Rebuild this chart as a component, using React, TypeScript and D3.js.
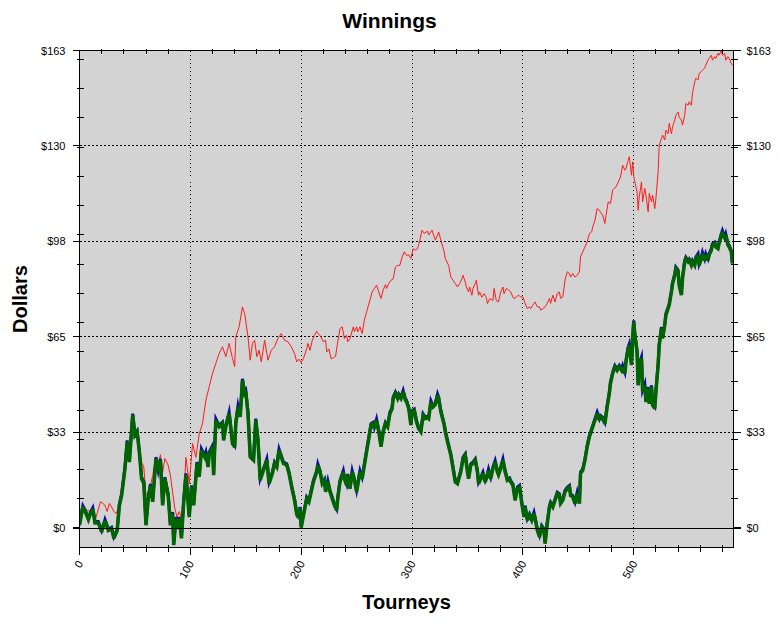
import React from 'react';
import * as d3 from 'd3';

// Cumulative winnings (red) by tourney number
const grossSeries: [number, number][] = [
  [0,0.8],[3,7],[5,5.6],[8,6],[10,4.8],[12,6.3],[14,2.3],[17,6.3],[19,8.8],[21,8.3],[23,7.6],[25,5.5],[27,8.3],[29,7],[31,5.5],[33,4.8],[35,6.5],[37,11],[39,14.4],[41,20],[43,29],[45,22.4],[48,38.4],[50,31.5],[52,32.6],[54,25.8],[56,22.4],[58,20.7],[60,11],[62,12],[64,14.4],[66,17.8],[69,24],[71,21.3],[73,24.9],[75,19],[77,23.6],[80,21.3],[82,17.8],[84,12.1],[86,6.5],[88,3.6],[90,5.5],[92,3.1],[94,10],[96,24],[99,15],
  [102,28.7],[105,24],[108,32],[111,35.6],[114,43.5],[117,48.1],[120,52.7],[123,56.1],[126,59.5],[129,61.8],[132,58.4],[135,62.9],[138,57.8],[140,55],[141,65.2],[144,68.6],[147,75.4],[149,73.1],[152,65.2],[154,57.2],[156,62.9],[158,64],[160,58.4],[162,60.6],[164,56.6],[167,64],[170,57.2],[173,60.6],[176,61.8],[179,64.6],[182,66.3],[185,64],[188,63.5],[191,61.8],[194,59.5],[196,56.6],[198,57.5],
  [200,56.4],[202,57.7],[205,61.2],[206,62.9],[208,60.6],[210,64],[212,65.7],[214,67.1],[215,66.3],[217,65.7],[220,63.5],[222,64],[223,60],[225,61],[227,57.7],[229,58],[231,58.5],[233,63.5],[235,68],[237,68.6],[239,64.6],[241,65.7],[242,63.5],[244,64.6],[247,68.6],[248,66.9],[250,68.6],[251,66.9],[253,68.6],[255,66.3],[257,70.9],[259,73.7],[262,77.7],[264,80.5],[266,81.7],[268,82.8],[270,80.5],[272,78.3],[274,81.2],[276,83],[277,81.7],[279,83.4],[281,84.5],[283,85],[285,89],[287,89.6],[289,89.6],[291,92.4],[293,94.2],[295,93],[297,93.2],[299,91.9],
  [301,95.3],[303,94.8],[305,95.3],[307,98.2],[309,101.6],[311,100.5],[314,101.3],[315,100],[318,101.6],[321,98.2],[323,100],[324,101],[326,98.2],[329,94.2],[330,91.9],[333,89.6],[335,85.6],[337,84.5],[339,83.4],[341,82.2],[343,83.4],[345,85],[346,86.2],[348,83.9],[349,82.2],[351,80.5],[352,82.2],[354,79.4],[355,81.7],[357,83.4],[358,84.5],[360,79.4],[361,80.5],[363,78.7],[365,79.9],[367,78.7],[368,76.5],[370,78.2],[373,77.6],[374,81.7],[376,77.6],[378,77.1],[380,80.5],[382,82.2],[383,79.9],[385,81.7],[387,81.2],[389,80.5],[391,78.8],[392,78.2],[394,78.8],[396,79.4],[398,78.8],
  [400,78.8],[402,76.6],[404,74.8],[406,75.4],[407,74.8],[409,76],[411,77.1],[413,75.4],[415,75.4],[416,74.3],[418,74.8],[420,75.4],[422,76.6],[424,78.3],[425,76.6],[427,79.4],[429,77.1],[431,80],[433,80.5],[434,78.3],[436,78.8],[438,84.5],[440,87.4],[442,86.8],[443,85.6],[445,86.8],[447,85.6],[449,86.2],[451,87.4],[452,92.5],[454,94.2],[456,95.9],[458,97.6],[460,100.5],[462,101],[463,102.7],[465,105],[467,109],[469,108.4],[470,107.8],[472,106.7],[474,103.9],[475,106.7],[477,111.3],[479,110.7],[481,115.3],[482,115.8],[484,116.4],[486,118],[488,119.7],[490,123.8],[492,122.1],[493,122.7],[495,125.5],[496,126.7],[498,120.4],[499,125],
  [500,120],[501,118.1],[503,114.7],[504,108.4],[505,113],[507,118.1],[508,111.3],[510,115.9],[511,113.6],[513,107.9],[514,114.2],[516,111.3],[517,113.6],[519,109],[520,112.4],[522,121.5],[523,130.7],[525,132.9],[526,134.1],[528,132.4],[529,135.8],[531,134.6],[532,138.1],[534,134.6],[535,136.9],[537,139.2],[538,140.9],[540,142],[541,140.3],[543,139.2],[544,137.5],[546,140.9],[547,144.9],[549,144.3],[550,145.5],[552,144.3],[553,148.3],[555,152.3],[556,153.5],[558,152.9],[559,155.2],[561,155.8],[562,156.3],[564,157],[565,158],[567,159.7],[568,160.3],[570,161.4],[571,159.7],[573,160.9],[574,160.3],[576,162],[577,161.4],[579,163],[580,161.4],[582,162],[583,159.7],[585,160.9],[586,160.3],[588,158.6],[589,158]
];

// Net winnings (blue / green) by tourney number
const netSeries: [number, number][] = [
  [0,0.8],[3,7],[5,5.6],[8,2.7],[10,4.9],[12,6.3],[14,1.6],[17,1.6],[20,-1.5],[23,2.3],[26,-1],[29,-0.4],[31,-3.7],[34,-1],[36,7.6],[38,11],[41,20.1],[43,29.3],[45,22.4],[48,38.4],[50,31.5],[52,32.6],[54,25.8],[56,16.7],[58,15.2],[60,0.8],[62,9.9],[64,14.4],[66,8.8],[69,23.6],[71,19],[73,23],[75,7.6],[77,16.7],[80,11],[82,0.8],[84,4.8],[85,-6],[87,3.1],[89,-0.4],[90,3.1],[92,-3.7],[94,8.8],[96,18],[99,3.6],
  [101,13.9],[103,7.6],[106,21.9],[108,17.3],[110,26.4],[113,24.1],[114,25.3],[116,20.7],[117,25.3],[120,27.5],[121,17.9],[123,36.7],[126,34.4],[129,35.5],[130,29.8],[132,34.4],[135,39],[138,28.7],[140,27.5],[141,35.5],[143,41.2],[145,37.8],[147,50.3],[149,45.8],[150,46.4],[152,39],[154,24.1],[157,23],[159,36.7],[161,29.8],[163,16.2],[166,19.6],[169,23],[171,15],[174,18.5],[176,21.9],[178,20.7],[180,26.4],[182,24.1],[184,21.9],[187,21.3],[189,18.5],[192,12.7],[194,9.3],[196,4.5],[197,3.6],[199,6.5],
  [200,0],[202,4],[205,9.9],[207,8.8],[209,12.2],[211,15.6],[214,19],[215,21.3],[217,19],[219,15],[221,16.1],[222,12.2],[224,15.6],[226,12.2],[228,9.9],[230,7.6],[232,5.9],[233,9.9],[235,15.6],[238,19],[239,16.7],[241,14.4],[242,17.8],[244,13.3],[246,19],[248,16.1],[250,12.2],[253,19],[255,16.7],[257,21.3],[259,25.9],[261,30.4],[263,35],[265,35.5],[266,33.8],[268,36.6],[270,32.7],[272,27.6],[274,32.7],[276,35.5],[278,34.4],[280,38.9],[282,40.6],[283,44.1],[285,45.8],[287,44.1],[288,45.2],[290,44.1],[292,46.4],[294,43.5],[295,43],[297,40.7],[299,35],
  [300,39.5],[302,40],[304,36.1],[306,33.8],[308,32.7],[310,38.4],[312,37.2],[314,37.5],[315,37.2],[317,42.9],[319,41.2],[321,42],[323,45.2],[324,44.1],[326,39.5],[329,35],[330,32.7],[332,29.3],[335,24.7],[337,20.2],[339,15.6],[341,15],[344,19],[346,23.6],[348,24.7],[350,19],[351,16.7],[353,21.3],[355,21.9],[357,23],[359,19],[360,15],[362,16.7],[364,18.5],[366,15.6],[368,17.8],[369,19.5],[371,16.7],[373,20.2],[375,22.4],[377,19],[378,18],[380,20.2],[382,23],[384,19],[386,16.1],[388,16.5],[389,15.6],[391,14.4],[393,9.3],[395,13.3],[397,13.9],[399,8.2],
  [401,3.6],[402,7],[404,2.5],[406,4.2],[408,2.5],[410,4.8],[411,3.1],[413,-0.9],[415,-3.2],[417,0.2],[419,-0.9],[420,-5.5],[422,1.4],[424,7],[425,8.2],[427,7],[429,9.3],[431,11.6],[433,11],[434,8.2],[436,9.3],[438,12.2],[440,13.3],[442,13.9],[443,11],[445,10.5],[447,8.2],[449,11.6],[451,8.2],[452,18.5],[454,19.6],[456,23],[458,27.6],[460,31],[461,32.1],[463,34.4],[465,36.7],[467,39],[469,36.7],[470,37.8],[472,37.2],[474,35.5],[476,41.2],[478,45.8],[479,49.2],[481,52.6],[483,54.9],[485,53.7],[487,54.9],[489,53.7],[490,54.9],[492,52.6],[493,56.6],[495,61.2],[496,62.3],[498,55.5],[499,64.6],
  [500,70.3],[501,65.7],[503,60],[504,48.6],[505,55.5],[507,57.8],[508,46.4],[510,48.6],[511,42.9],[513,47.5],[514,42.3],[516,48.1],[517,41.8],[519,40.7],[520,46.4],[522,55.5],[523,62.3],[525,68],[526,64.6],[528,69.1],[529,72.6],[531,74.8],[532,76],[534,80.5],[535,83.2],[537,86.2],[538,88.5],[540,87.5],[541,82.8],[543,79.4],[544,85.1],[546,90.8],[547,91.9],[549,90.8],[550,91.3],[552,89.6],[553,90.8],[555,89.6],[556,91.9],[558,93.1],[559,89.6],[561,91.9],[562,93.6],[564,91.3],[565,93.1],[567,91.3],[568,93.1],[570,94.8],[571,96.5],[573,97],[574,95.9],[576,95.3],[577,97],[579,99.9],[580,101],[582,98.7],[583,99.9],[585,96.5],[586,96],[588,94.2],[589,90.2]
];

const xMajorTicks = [0, 100, 200, 300, 400, 500];
const xMinorStep = 20;
const yMax = 163;
const yMin = -6.8;
const yMajorTicks = [0, 32.6, 65.2, 97.8, 130.4, 163];
const yMinorStep = 10;
const xMax = 590;

const FONT = "'Liberation Sans', Arial, Helvetica, sans-serif";

export default function App() {
  const W = 779, H = 623;
  const L = 79.5, R = 733.5, T = 50.5, B = 547.5;
  const x = d3.scaleLinear().domain([0, xMax]).range([L, R]);
  const y = d3.scaleLinear().domain([yMin, yMax]).range([B, T]);

  const line = d3.line<[number, number]>().x(d => x(d[0])).y(d => y(d[1]));
  const grossPath = line(grossSeries) || '';
  const netPath = line(netSeries) || '';

  const xMinor = d3.range(0, xMax + 0.001, xMinorStep).filter(v => v % 100 !== 0);
  const yMinor = d3.range(yMinorStep, yMax, yMinorStep);

  const fmt = (v: number) => '$' + Math.round(v);

  return (
    <svg width={W} height={H} style={{ position: 'absolute', left: 0, top: 0, background: '#fff' }} fontFamily={FONT}>
      <defs>
        <clipPath id="plotClip">
          <rect x={L} y={T} width={R - L} height={B - T} />
        </clipPath>
      </defs>
      <rect x={0} y={0} width={W} height={H} fill="#fff" />
      <rect x={L} y={T} width={R - L} height={B - T} fill="#d3d3d3" />

      {/* grid */}
      <g stroke="#000" strokeWidth={1} shapeRendering="crispEdges">
        {xMajorTicks.filter(v => v > 0).map(v => (
          <line key={'gx' + v} x1={x(v)} x2={x(v)} y1={T} y2={B} strokeDasharray="1,3" />
        ))}
        {yMajorTicks.filter(v => v > 0 && v < yMax).map(v => (
          <line key={'gy' + v} x1={L} x2={R} y1={y(v)} y2={y(v)} strokeDasharray="2,2" />
        ))}
      </g>

      {/* series */}
      <g clipPath="url(#plotClip)" fill="none">
        <path d={grossPath} stroke="#ff1a1a" strokeWidth={1} />
        <path d={netPath} stroke="#1010a0" strokeWidth={3} transform="translate(0,-1.5)" strokeLinejoin="miter" strokeMiterlimit={6} />
        <path d={netPath} stroke="#006400" strokeWidth={3.5} strokeLinejoin="miter" strokeMiterlimit={3} />
      </g>

      {/* zero line */}
      <line x1={L - 7} x2={R + 7} y1={Math.round(y(0)) + 0.5} y2={Math.round(y(0)) + 0.5} stroke="#000" strokeWidth={1} shapeRendering="crispEdges" />

      {/* frame and ticks */}
      <g stroke="#000" strokeWidth={1} shapeRendering="crispEdges">
        <rect x={L} y={T} width={R - L} height={B - T} fill="none" />
        {yMajorTicks.map(v => (
          <g key={'ym' + v}>
            <line x1={L - 7} x2={L} y1={y(v)} y2={y(v)} />
            <line x1={R} x2={R + 7} y1={y(v)} y2={y(v)} />
          </g>
        ))}
        {yMinor.map(v => (
          <g key={'yn' + v}>
            <line x1={L - 3} x2={L + 4} y1={y(v)} y2={y(v)} />
            <line x1={R - 3} x2={R + 4} y1={y(v)} y2={y(v)} />
          </g>
        ))}
        {xMajorTicks.map(v => (
          <line key={'xm' + v} x1={x(v)} x2={x(v)} y1={B} y2={B + 7} />
        ))}
        {xMinor.map(v => (
          <g key={'xn' + v}>
            <line x1={x(v)} x2={x(v)} y1={B - 3} y2={B + 4} />
            <line x1={x(v)} x2={x(v)} y1={T - 2} y2={T + 3} />
          </g>
        ))}
      </g>

      {/* tick labels */}
      <g fontSize={11} fill="#000">
        {yMajorTicks.map(v => (
          <text key={'yl' + v} x={L - 14} y={y(v) + 4} textAnchor="end">{fmt(v)}</text>
        ))}
        {yMajorTicks.map(v => (
          <text key={'yr' + v} x={R + 13} y={y(v) + 4} textAnchor="start">{fmt(v)}</text>
        ))}
        {xMajorTicks.map(v => (
          <text key={'xl' + v} transform={`translate(${x(v) + 4},${B + 16}) rotate(-60)`} textAnchor="end">{v}</text>
        ))}
      </g>

      {/* titles */}
      <text x={W / 2} y={28} textAnchor="middle" fontSize={21} fontWeight="bold">Winnings</text>
      <text x={(L + R) / 2} y={609} textAnchor="middle" fontSize={20} fontWeight="bold">Tourneys</text>
      <text transform={`translate(27,${(T + B) / 2}) rotate(-90)`} textAnchor="middle" fontSize={20} fontWeight="bold">Dollars</text>
    </svg>
  );
}
